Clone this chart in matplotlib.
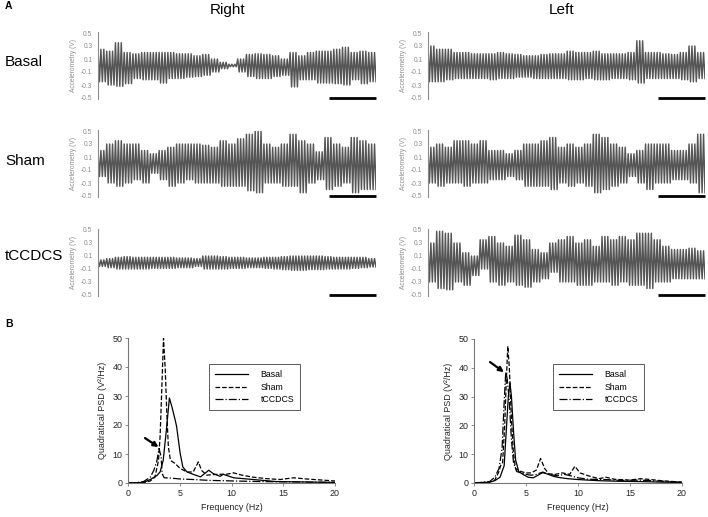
"""
Accelerometry traces and PSD curves (Right / Left, Basal / Sham / tCCDCS)
"""

import matplotlib.pyplot as plt
import numpy as np

# ---------------- data ----------------
conditions = ["Basal", "Sham", "tCCDCS"]
sides = ["Right", "Left"]
cycles_per_value = 3

# envelope of each trace (top peaks / bottom troughs), 32 points left -> right
right_basal_top = [0.25, 0.22, 0.35, 0.2, 0.18, 0.2, 0.2, 0.2, 0.2, 0.18, 0.18, 0.15, 0.17, 0.1, 0.05, 0.02,
                   0.1, 0.17, 0.18, 0.17, 0.15, 0.1, 0.2, 0.15, 0.2, 0.22, 0.22, 0.25, 0.28, 0.2, 0.22, 0.2]
right_basal_bot = [-0.25, -0.3, -0.32, -0.28, -0.2, -0.22, -0.22, -0.27, -0.2, -0.2, -0.18, -0.17, -0.15, -0.1,
                   -0.05, -0.02, -0.1, -0.17, -0.2, -0.2, -0.17, -0.15, -0.33, -0.22, -0.22, -0.27, -0.27, -0.28,
                   -0.3, -0.22, -0.28, -0.25]
left_basal_top = [0.3, 0.25, 0.25, 0.2, 0.2, 0.18, 0.18, 0.18, 0.2, 0.18, 0.17, 0.15, 0.15, 0.17, 0.18, 0.18,
                  0.22, 0.2, 0.2, 0.22, 0.18, 0.18, 0.18, 0.2, 0.38, 0.2, 0.2, 0.18, 0.17, 0.2, 0.3, 0.2]
left_basal_bot = [-0.25, -0.25, -0.22, -0.2, -0.2, -0.2, -0.2, -0.22, -0.2, -0.2, -0.18, -0.18, -0.2, -0.2, -0.2,
                  -0.2, -0.22, -0.22, -0.2, -0.22, -0.22, -0.2, -0.2, -0.22, -0.27, -0.2, -0.2, -0.2, -0.2,
                  -0.22, -0.25, -0.2]
right_sham_top = [0.2, 0.3, 0.35, 0.3, 0.3, 0.2, 0.15, 0.2, 0.25, 0.3, 0.3, 0.3, 0.28, 0.25, 0.35, 0.3, 0.38,
                  0.45, 0.5, 0.3, 0.25, 0.3, 0.45, 0.35, 0.3, 0.18, 0.4, 0.3, 0.25, 0.4, 0.35, 0.3]
right_sham_bot = [-0.2, -0.3, -0.35, -0.3, -0.25, -0.3, -0.15, -0.25, -0.35, -0.3, -0.25, -0.3, -0.3, -0.3,
                  -0.35, -0.35, -0.35, -0.42, -0.45, -0.3, -0.3, -0.35, -0.35, -0.45, -0.3, -0.25, -0.4, -0.35,
                  -0.3, -0.45, -0.4, -0.4]
left_sham_top = [0.25, 0.3, 0.25, 0.35, 0.35, 0.3, 0.35, 0.2, 0.2, 0.15, 0.2, 0.3, 0.3, 0.35, 0.4, 0.25, 0.3,
                 0.25, 0.3, 0.45, 0.4, 0.3, 0.25, 0.15, 0.2, 0.3, 0.3, 0.3, 0.2, 0.2, 0.3, 0.45]
left_sham_bot = [-0.3, -0.35, -0.3, -0.3, -0.35, -0.3, -0.3, -0.25, -0.25, -0.2, -0.25, -0.35, -0.35, -0.35,
                 -0.4, -0.3, -0.35, -0.3, -0.35, -0.45, -0.4, -0.35, -0.3, -0.2, -0.3, -0.4, -0.3, -0.3, -0.25,
                 -0.25, -0.3, -0.45]
right_tccdcs_top = [0.04, 0.06, 0.08, 0.09, 0.08, 0.08, 0.08, 0.08, 0.08, 0.07, 0.07, 0.06, 0.1, 0.1, 0.09, 0.08,
                    0.08, 0.07, 0.07, 0.08, 0.08, 0.09, 0.1, 0.1, 0.1, 0.1, 0.09, 0.08, 0.08, 0.08, 0.08, 0.06]
right_tccdcs_bot = [-0.06, -0.08, -0.1, -0.1, -0.1, -0.1, -0.09, -0.09, -0.09, -0.08, -0.08, -0.06, -0.1, -0.1,
                    -0.1, -0.09, -0.09, -0.08, -0.08, -0.09, -0.1, -0.11, -0.12, -0.12, -0.11, -0.11, -0.1, -0.1,
                    -0.1, -0.09, -0.08, -0.07]
left_tccdcs_top = [0.3, 0.48, 0.45, 0.3, 0.15, 0.1, 0.35, 0.4, 0.3, 0.25, 0.42, 0.35, 0.2, 0.15, 0.3, 0.35, 0.4,
                   0.3, 0.35, 0.25, 0.4, 0.35, 0.4, 0.35, 0.45, 0.45, 0.35, 0.25, 0.2, 0.2, 0.22, 0.18]
left_tccdcs_bot = [-0.3, -0.4, -0.42, -0.3, -0.35, -0.2, -0.1, -0.3, -0.35, -0.3, -0.35, -0.38, -0.3, -0.25,
                   -0.15, -0.3, -0.3, -0.35, -0.35, -0.3, -0.3, -0.35, -0.3, -0.35, -0.35, -0.4, -0.3, -0.3,
                   -0.25, -0.25, -0.25, -0.25]

acc_ticks = [0.5, 0.3, 0.1, -0.1, -0.3, -0.5]

# PSD, right hand
r_basal_f = [0, 1.5, 2.15, 2.8, 3.1, 3.4, 3.7, 4.0, 4.24, 4.56, 4.7, 5.04, 5.3, 5.7, 6.3, 7.0, 7.6, 7.8, 8.25,
             8.9, 9.2, 10.2, 12.1, 14.3, 20]
r_basal_p = [0, 0.2, 1.2, 2.6, 3.8, 7.8, 18, 29.3, 26.3, 21.7, 19.4, 10.2, 5.5, 3.8, 3.0, 2.1, 3.8, 4.4, 3.2,
             2.3, 3.0, 1.8, 1.2, 0.5, 0.2]
r_sham_f = [0, 1.5, 2.15, 2.6, 2.95, 3.1, 3.27, 3.43, 3.6, 3.75, 3.9, 4.1, 4.56, 5.04, 5.7, 6.3, 6.8, 7.1, 7.6,
            8.6, 9.5, 10.2, 11, 12.1, 13.4, 14.7, 16, 17.2, 20]
r_sham_p = [0, 0.1, 0.7, 2.0, 7.8, 16, 33, 50, 39, 24, 12.5, 7.8, 6.7, 5.0, 3.8, 3.8, 7.3, 4.4, 2.7, 3.0, 3.0,
            3.5, 2.7, 2.0, 1.5, 1.2, 1.8, 1.4, 0.7]
r_tcc_f = [0, 0.5, 1.5, 2.15, 2.5, 2.8, 3.0, 3.2, 3.3, 3.5, 4.1, 5.0, 6.3, 7.9, 10.2, 12.7, 20]
r_tcc_p = [0, 0, 0.5, 2.0, 4.4, 7.8, 11.9, 9.0, 3.2, 1.8, 1.7, 1.4, 1.2, 0.9, 0.7, 0.5, 0.2]

# PSD, left hand
l_basal_f = [0, 1.5, 2.0, 2.5, 2.9, 3.1, 3.3, 3.46, 3.6, 3.8, 4.0, 4.3, 4.7, 5.2, 5.7, 6.2, 6.6, 7.0, 7.5, 8.0,
             9, 10, 11, 12, 14, 16, 18, 20]
l_basal_p = [0, 0.3, 0.8, 2, 6, 18, 30, 34.8, 30, 18, 8, 4, 3, 2, 1.8, 2.8, 3.6, 3.2, 2.5, 2, 1.5, 1.2, 1, 0.8,
             0.6, 0.5, 0.3, 0.2]
l_sham_f = [0, 1.5, 2.0, 2.4, 2.55, 2.75, 2.95, 3.1, 3.25, 3.4, 3.6, 3.8, 4.0, 4.5, 5.0, 5.5, 6.0, 6.4, 6.8, 7.2,
            7.8, 8.5, 9.2, 9.7, 10.2, 11, 12, 12.7, 13.5, 15, 16, 17, 18, 20]
l_sham_p = [0, 0.3, 1, 4, 6, 7, 20, 35, 47.5, 40, 22, 10, 5, 4, 3.5, 3.5, 4.5, 8.5, 5, 3.2, 3, 3.5, 3, 5.8, 3.5,
            2.5, 1.5, 2, 1.3, 1, 1.5, 1.2, 0.8, 0.3]
l_tcc_f = [0, 1.5, 2.0, 2.4, 2.7, 2.9, 3.05, 3.2, 3.4, 3.6, 3.8, 4.1, 4.5, 5, 5.5, 6, 6.6, 7.2, 8, 8.7, 9.3, 10,
           11, 12.7, 14, 16, 17, 20]
l_tcc_p = [0, 0.5, 2, 5, 12, 28, 38.5, 36, 28, 15, 7, 4, 3.5, 3, 2.7, 3, 3.8, 3, 2.5, 3, 2.5, 1.8, 1.3, 1.2,
           0.9, 1, 0.8, 0.3]

psd_labels = ["Basal", "Sham", "tCCDCS"]
psd_ticks_x = [0, 5, 10, 15, 20]
psd_ticks_y = [0, 10, 20, 30, 40, 50]


W, H = 708, 517
TRACE_GRAY = '#555555'
AXIS_GRAY = '#8c8c8c'


def px_axes(fig, x0, y0, x1, y1):
    """Add axes from pixel box (top-left origin)."""
    return fig.add_axes([x0 / W, 1 - y1 / H, (x1 - x0) / W, (y1 - y0) / H])


def draw_trace(ax, top, bot):
    t = np.repeat(top, cycles_per_value)
    b = np.repeat(bot, cycles_per_value)
    y = np.column_stack([t, b]).ravel()
    x = np.arange(len(y)) * 0.5
    ax.plot(x, y, color=TRACE_GRAY, lw=1.05)
    ax.set_xlim(0, x[-1])
    ax.set_ylim(-0.5, 0.5)
    for s in ['top', 'right', 'bottom']:
        ax.spines[s].set_visible(False)
    ax.spines['left'].set_color(AXIS_GRAY)
    ax.spines['left'].set_linewidth(0.8)
    ax.spines['left'].set_bounds(-0.52, 0.52)
    ax.set_xticks([])
    ax.set_yticks(acc_ticks)
    ax.set_yticklabels([f'{v:.1f}' for v in acc_ticks])
    ax.tick_params(axis='y', length=0, pad=4, labelsize=4.8, labelcolor=AXIS_GRAY)
    ax.set_ylabel('Accelerometry (V)', fontsize=4.8, color=AXIS_GRAY, labelpad=3)
    # time scale bar
    ax.plot([0.83, 1.0], [-0.005, -0.005], transform=ax.transAxes, color='black',
            lw=2.0, solid_capstyle='butt', clip_on=False)


def draw_psd(ax, curves, arrow_tail, arrow_head, leg_anchor):
    styles = ['-', '--', '-.']
    for (f, p), ls, lab in zip(curves, styles, psd_labels):
        ax.plot(f, p, color='black', lw=0.9, ls=ls, label=lab)
    ax.set_xlim(0, 20)
    ax.set_ylim(0, 50)
    ax.set_xticks(psd_ticks_x)
    ax.set_yticks(psd_ticks_y)
    for s in ['top', 'right']:
        ax.spines[s].set_visible(False)
    for s in ['left', 'bottom']:
        ax.spines[s].set_color('#777777')
        ax.spines[s].set_linewidth(0.8)
    ax.tick_params(length=2, width=0.6, color='#777777', labelsize=6.4, pad=2, labelcolor='#222222')
    ax.set_xlabel('Frequency (Hz)', fontsize=6.4, color='#222222', labelpad=4)
    ax.set_ylabel('Quadratical PSD (V²/Hz)', fontsize=6.4, color='#222222', labelpad=4)
    leg = ax.legend(loc='upper left', bbox_to_anchor=leg_anchor, borderaxespad=0,
                    fontsize=6.3, frameon=True, fancybox=False, handlelength=3.8,
                    handletextpad=1.4, borderpad=0.7, labelspacing=0.4)
    leg.get_frame().set_edgecolor('#333333')
    leg.get_frame().set_linewidth(0.7)
    ax.annotate('', xy=arrow_head, xytext=arrow_tail,
                arrowprops=dict(arrowstyle='-|>', color='black', lw=1.6, mutation_scale=7,
                                shrinkA=0, shrinkB=0))


def create_figure():
    plt.rcParams['font.family'] = ['Liberation Sans', 'DejaVu Sans']
    fig = plt.figure(figsize=(W / 100, H / 100), dpi=100)
    fig.patch.set_facecolor('white')

    fig.text(5 / W, 1 - 6 / H, 'A', fontsize=7.5, fontweight='bold', va='center', ha='left')
    fig.text(5 / W, 1 - 324 / H, 'B', fontsize=7.5, fontweight='bold', va='center', ha='left')
    fig.text(228 / W, 1 - 10 / H, sides[0], fontsize=11, ha='center', va='center')
    fig.text(562 / W, 1 - 10 / H, sides[1], fontsize=11, ha='center', va='center')

    row_tops = [33, 131, 230]
    row_centers = [62, 161, 256]
    traces_right = [(right_basal_top, right_basal_bot), (right_sham_top, right_sham_bot),
                    (right_tccdcs_top, right_tccdcs_bot)]
    traces_left = [(left_basal_top, left_basal_bot), (left_sham_top, left_sham_bot),
                   (left_tccdcs_top, left_tccdcs_bot)]

    for i, cond in enumerate(conditions):
        fig.text(5 / W, 1 - row_centers[i] / H, cond, fontsize=11, ha='left', va='center')
        y0 = row_tops[i]
        ax_r = px_axes(fig, 98, y0, 376, y0 + 65)
        draw_trace(ax_r, *traces_right[i])
        ax_l = px_axes(fig, 428, y0, 705, y0 + 65)
        draw_trace(ax_l, *traces_left[i])

    ax_pr = px_axes(fig, 128, 338, 335, 483)
    draw_psd(ax_pr, [(r_basal_f, r_basal_p), (r_sham_f, r_sham_p), (r_tcc_f, r_tcc_p)],
             arrow_tail=(1.64, 15.5), arrow_head=(2.95, 12.4), leg_anchor=(0.391, 0.821))

    ax_pl = px_axes(fig, 474, 339, 682, 483)
    draw_psd(ax_pl, [(l_basal_f, l_basal_p), (l_sham_f, l_sham_p), (l_tcc_f, l_tcc_p)],
             arrow_tail=(1.54, 42.0), arrow_head=(2.88, 38.5), leg_anchor=(0.38, 0.826))

    fig.savefig('out.png', dpi=100, facecolor='white')


if __name__ == "__main__":
    create_figure()
